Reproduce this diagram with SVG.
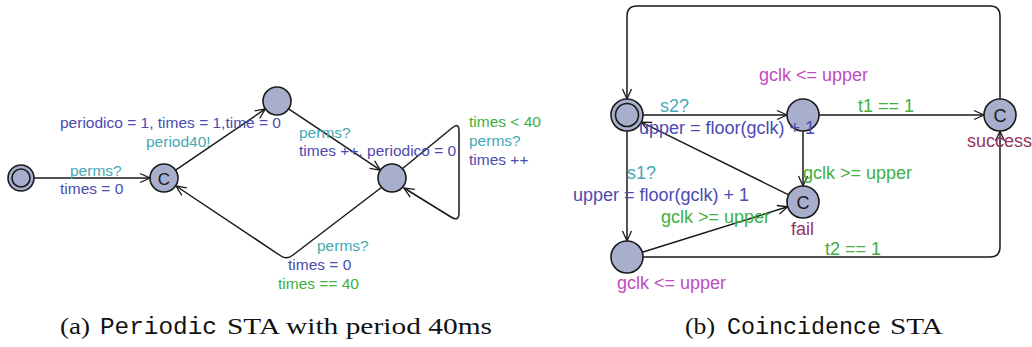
<svg xmlns="http://www.w3.org/2000/svg" width="1032" height="347" viewBox="0 0 1032 347">
<style>
.node{fill:#a7afcc;stroke:#1a1a1a;stroke-width:1.6}
.edge{fill:none;stroke:#1a1a1a;stroke-width:1.5;stroke-linejoin:round}
text{font-family:"Liberation Sans",Arial,sans-serif}
.l{font-size:15.5px}
.r{font-size:18px}
.cs{font-size:17px}
.sync{fill:#45a9b3}
.upd{fill:#4b4bb0}
.grd{fill:#40b040}
.inv{fill:#c04cc0}
.nm{fill:#993360}
.cl{fill:#1a1a1a;text-anchor:middle;dominant-baseline:central}
.cap{font-family:"Liberation Serif","Times New Roman",serif;font-size:23px;fill:#111}
.tt{font-family:"Liberation Mono","Courier New",monospace;font-size:23px;fill:#111}
</style>
<defs>
<marker id="ar" markerUnits="userSpaceOnUse" markerWidth="14" markerHeight="12" viewBox="-12 -6 14 12" refX="0" refY="0" orient="auto">
<path d="M-10,-4.5 L0,0 L-10,4.5" fill="none" stroke="#1a1a1a" stroke-width="1.3"/>
</marker>
</defs>

<g id="connectors">
<path class="edge" d="M34,178 L150,178" marker-end="url(#ar)"/>
<path class="edge" d="M175.6,170.1 L265.4,108.9" marker-end="url(#ar)"/>
<path class="edge" d="M288.6,108.8 L380.4,170.2" marker-end="url(#ar)"/>
<path class="edge" d="M402,169 L452,128 Q459,122 459,131 L459,213 Q459,222 451,217 L404,188" marker-end="url(#ar)"/>
<path class="edge" d="M382,187 L293,255 Q287,260 281,256 L176,186" marker-end="url(#ar)"/>

<path class="edge" d="M1000,99 L1000,16 Q1000,6 990,6 L637,6 Q627,6 627,16 L627,99" marker-end="url(#ar)"/>
<path class="edge" d="M643,115 L787,115" marker-end="url(#ar)"/>
<path class="edge" d="M819,115 L984,115" marker-end="url(#ar)"/>
<path class="edge" d="M803,131 L803,186" marker-end="url(#ar)"/>
<path class="edge" d="M788.7,194.9 L641.3,122.1" marker-end="url(#ar)"/>
<path class="edge" d="M627,131 L627,241" marker-end="url(#ar)"/>
<path class="edge" d="M642.3,252.2 L787.7,206.8" marker-end="url(#ar)"/>
<path class="edge" d="M643,257 L990,257 Q1000,257 1000,247 L1000,131" marker-end="url(#ar)"/>
</g>

<g id="p_init">
<circle class="node" cx="21" cy="178" r="13"/>
<circle class="node" cx="21" cy="178" r="9"/>
</g>
<g id="p_c">
<circle class="node" cx="164" cy="178" r="14"/>
<text class="cl cs" x="164" y="179">C</text>
</g>
<g id="p_top">
<circle class="node" cx="277" cy="101" r="14"/>
</g>
<g id="p_right">
<circle class="node" cx="392" cy="178" r="14"/>
</g>

<g id="c_init">
<circle class="node" cx="627" cy="115" r="16"/>
<circle class="node" cx="627" cy="115" r="11.5"/>
</g>
<g id="c_mid">
<circle class="node" cx="803" cy="115" r="16"/>
</g>
<g id="c_success">
<circle class="node" cx="1000" cy="115" r="16"/>
<text class="cl r" x="1000" y="116">C</text>
<text class="r nm" x="967" y="147">success</text>
</g>
<g id="c_fail">
<circle class="node" cx="803" cy="202" r="16"/>
<text class="cl r" x="803" y="203">C</text>
<text class="r nm" x="791" y="235">fail</text>
</g>
<g id="c_bottom">
<circle class="node" cx="627" cy="257" r="16"/>
<text class="r inv" x="617" y="289">gclk &lt;= upper</text>
</g>

<g id="labels">
<text class="l sync" x="70" y="176">perms?</text>
<text class="l upd" x="60" y="194">times = 0</text>
<text class="l upd" x="60" y="128">periodico = 1, times = 1,time = 0</text>
<text class="l sync" x="146" y="147">period40!</text>
<text class="l sync" x="299" y="138">perms?</text>
<text class="l upd" x="299" y="156">times ++, periodico = 0</text>
<text class="l grd" x="469" y="127">times &lt; 40</text>
<text class="l sync" x="469" y="146">perms?</text>
<text class="l upd" x="469" y="165">times ++</text>
<text class="l sync" x="317" y="251">perms?</text>
<text class="l upd" x="288" y="270">times = 0</text>
<text class="l grd" x="278" y="289">times == 40</text>

<text class="r inv" x="759" y="81">gclk &lt;= upper</text>
<text class="r sync" x="660" y="112">s2?</text>
<text class="r upd" x="639" y="134">upper = floor(gclk) + 1</text>
<text class="r grd" x="858" y="112">t1 == 1</text>
<text class="r sync" x="627" y="179">s1?</text>
<text class="r upd" x="573" y="201">upper = floor(gclk) + 1</text>
<text class="r grd" x="803" y="179">gclk &gt;= upper</text>
<text class="r grd" x="661" y="223">gclk &gt;= upper</text>
<text class="r grd" x="825" y="255">t2 == 1</text>
</g>

<g id="captions">
<text class="cap" x="60" y="334" textLength="30" lengthAdjust="spacingAndGlyphs">(a)</text>
<text class="tt" x="100" y="334" textLength="117" lengthAdjust="spacingAndGlyphs">Periodic</text>
<text class="cap" x="227" y="334" textLength="265" lengthAdjust="spacingAndGlyphs">STA with period 40ms</text>
<text class="cap" x="685" y="334" textLength="30" lengthAdjust="spacingAndGlyphs">(b)</text>
<text class="tt" x="727" y="334" textLength="154" lengthAdjust="spacingAndGlyphs">Coincidence</text>
<text class="cap" x="890" y="334" textLength="53" lengthAdjust="spacingAndGlyphs">STA</text>
</g>
</svg>
